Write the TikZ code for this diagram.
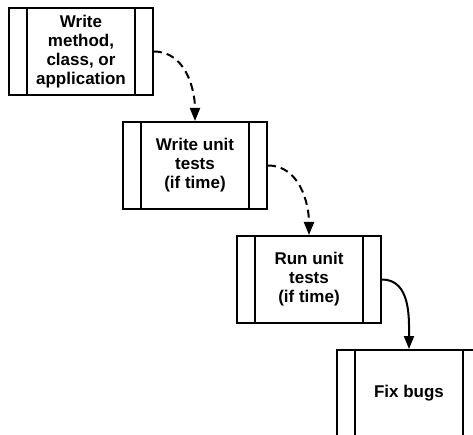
\documentclass[tikz,border=0pt]{standalone}
\usepackage{fontspec}
\setmainfont{Liberation Sans}
\usetikzlibrary{positioning,arrows.meta}

\begin{document}
\begin{tikzpicture}[x=1pt,y=-1pt,node distance=114pt and 114pt,on grid,
    >={Triangle[length=13pt,width=10pt]},
    procbox/.style={draw,line width=2pt,minimum width=144pt,minimum height=87pt,
      align=center,font=\bfseries\fontsize{17}{19}\selectfont,
      path picture={
        \draw[line width=2pt] ([xshift=18pt]path picture bounding box.north west) -- ([xshift=18pt]path picture bounding box.south west);
        \draw[line width=2pt] ([xshift=-18pt]path picture bounding box.north east) -- ([xshift=-18pt]path picture bounding box.south east);}},
    flow/.style={line width=2pt,->},
    later/.style={flow,dash pattern=on 8pt off 5pt}]
  \useasboundingbox (0,0) rectangle (473,435);
  \clip (0,0) rectangle (473,435);
     \node[procbox] (write)  at (81,51.5) {Write\\method,\\class, or\\application};
     \node[procbox] (tests)  [below right=of write] {Write unit\\tests\\(if time)};
     \node[procbox] (run)    [below right=of tests] {Run unit\\tests\\(if time)};
     \node[procbox] (fix)    [below right=114pt and 100pt of run] {Fix bugs};
      \path
      (write.east) edge [later,out=0,in=90] (tests.north)
      (tests.east) edge [later,out=0,in=90] (run.north)
      (run.east)   edge [flow,out=0,in=90] (fix.north);
\end{tikzpicture}
\end{document}
